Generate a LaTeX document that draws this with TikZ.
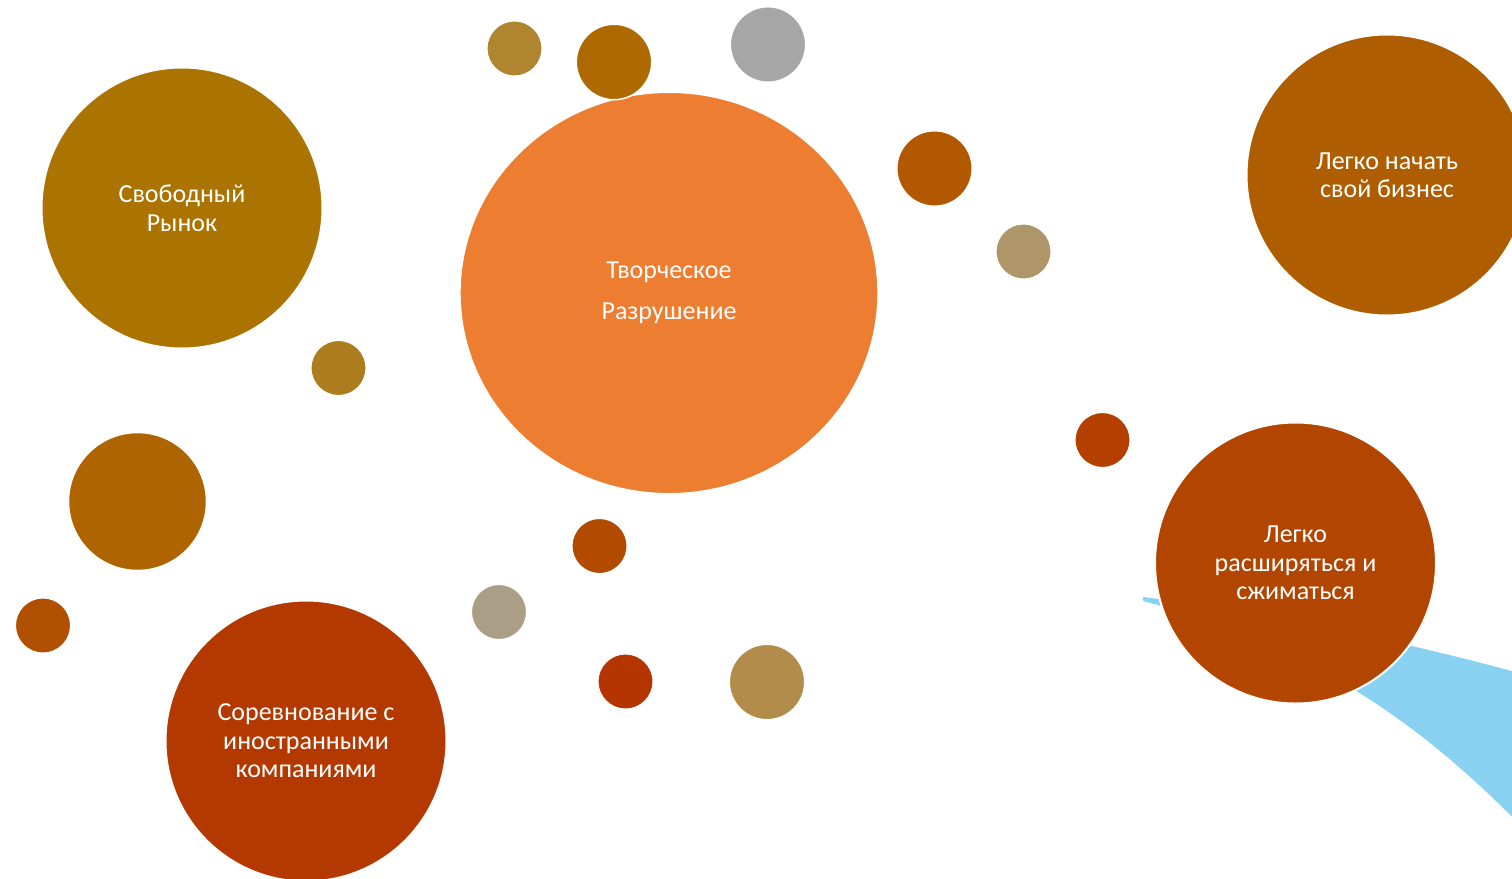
\documentclass[tikz,border=0pt]{standalone}
\usepackage{fontspec}
\setmainfont{Carlito}
\usepackage{xcolor}
\usetikzlibrary{shapes,positioning}

\definecolor{marketgold}{RGB}{171,115,0}
\definecolor{destrorange}{RGB}{237,125,49}
\definecolor{startbrown}{RGB}{174,94,0}
\definecolor{flexrust}{RGB}{178,70,0}
\definecolor{foreignred}{RGB}{180,57,0}
\definecolor{swoosh}{RGB}{137,209,241}
\definecolor{tanA}{RGB}{176,133,48}
\definecolor{brownA}{RGB}{174,106,0}
\definecolor{greyA}{RGB}{166,166,166}
\definecolor{rustA}{RGB}{178,88,0}
\definecolor{tanB}{RGB}{174,150,104}
\definecolor{goldA}{RGB}{173,124,28}
\definecolor{brownB}{RGB}{174,100,0}
\definecolor{rustB}{RGB}{176,80,0}
\definecolor{rustC}{RGB}{178,74,0}
\definecolor{greyB}{RGB}{170,158,135}
\definecolor{redA}{RGB}{181,53,0}
\definecolor{tanC}{RGB}{177,140,74}
\definecolor{redB}{RGB}{180,64,0}

\tikzset{
  bubble/.style={circle, draw=white, line width=2pt, inner sep=0pt, minimum size=281pt,
    text=white, align=center, font=\fontsize{26}{28.5}\selectfont},
  spot/.style={circle, draw=white, line width=1.5pt, inner sep=0pt, minimum size=55.5pt},
  bigspot/.style={spot, minimum size=75.5pt},
}

\begin{document}
\begin{tikzpicture}[x=1pt, y=-1pt]
    \clip (0,0) rectangle (1512,878);

    % Swoosh
    \fill[swoosh] (1143,597) .. controls (1260,612) and (1400,640) .. (1530,676)
        -- (1530,835) .. controls (1440,742) and (1330,650) .. (1143,601) -- cycle;

    % Main bubbles
    \node[bubble, fill=marketgold] (market) at (182,208) {Свободный\\Рынок};
    \node[ellipse, draw=white, line width=2pt, inner sep=0pt, fill=destrorange,
        minimum width=418.6pt, minimum height=402pt, text=white, align=center,
        font=\fontsize{26}{41}\selectfont] (destruction) at (669,293) {Творческое\\Разрушение};
    \node[bubble, fill=startbrown] (startbiz) at (1387,175) {Легко начать\\свой бизнес};
    \node[bubble, fill=flexrust] (flexible) at (1295.5,563) {Легко\\расширяться и\\сжиматься};
    \node[bubble, fill=foreignred] (foreign) at (306,741) {Соревнование с\\иностранными\\компаниями};

    % Small bubbles
    \node[spot, fill=tanA] (topTan) at (514.5,48.5) {};
    \node[bigspot, fill=brownA] (topBrown) at (614,62) {};
    \node[bigspot, fill=greyA] (topGrey) at (768,44.5) {};
    \node[bigspot, fill=rustA] (rightRust) at (934.5,168.5) {};
    \node[spot, fill=tanB] (rightTan) at (1023.5,251.5) {};
    \node[spot, fill=redB] (rightRed) at (1102.5,440) {};
    \node[spot, fill=goldA] (leftGold) at (338.5,368) {};
    \node[spot, fill=brownB, minimum size=138pt] (leftBrown) at (137.5,501.5) {};
    \node[spot, fill=rustB] (leftRust) at (43,625.5) {};
    \node[spot, fill=rustC] (lowRust) at (599.5,546) {};
    \node[spot, fill=greyB] (lowGrey) at (499,612) {};
    \node[spot, fill=redA] (lowRed) at (625.5,681.5) {};
    \node[bigspot, fill=tanC] (lowTan) at (767,682) {};
\end{tikzpicture}
\end{document}
